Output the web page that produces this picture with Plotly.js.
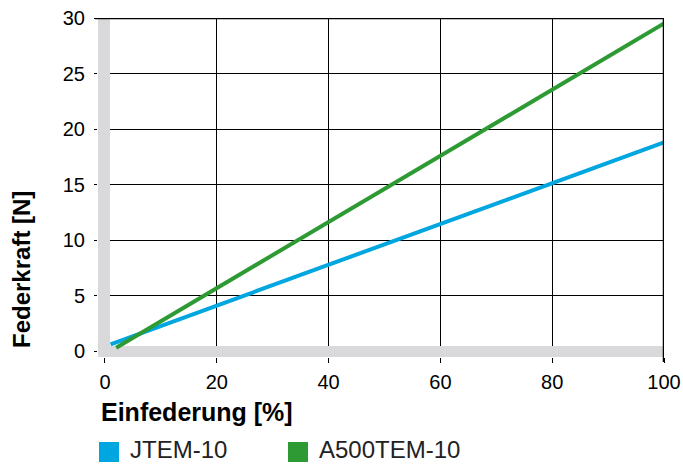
<!DOCTYPE html>
<html><head><meta charset="utf-8">
<script src="https://cdn.plot.ly/plotly-3.0.1.min.js"></script>
<style>html,body{margin:0;padding:0;background:#fff}#chart{width:683px;height:464px}</style>
</head><body><div id="chart"></div>
<script>
const seriesNames = ["JTEM-10", "A500TEM-10"];
const seriesColors = ["#00a6df", "#2e9a33"];
const xJTEM = [1, 100];
const yJTEM = [0.6, 18.8];
const xA500 = [2, 100];
const yA500 = [0.3, 29.5];
const xTicks = [0, 20, 40, 60, 80, 100];
const yTicks = [0, 5, 10, 15, 20, 25, 30];
const xTitle = "Einfederung [%]";
const yTitle = "Federkraft [N]";

const W = 683, H = 464, L = 98, R = 19, T = 18, B = 107;
const pw = W - L - R, ph = H - T - B;
const px = v => (v - L) / pw;
const py = v => (H - B - v) / ph;
const FONT = "Liberation Sans, Arial, sans-serif";

const traces = [
  {x: xJTEM, y: yJTEM, mode: "lines", line: {color: seriesColors[0], width: 4}, showlegend: false, hoverinfo: "skip"},
  {x: xA500, y: yA500, mode: "lines", line: {color: seriesColors[1], width: 4}, showlegend: false, hoverinfo: "skip"}
];

const xr = [-1.25, 100], yr = [-0.54, 30];
const gray = "#d9d9db";
const shapes = [
  {type: "rect", xref: "x", yref: "y", x0: xr[0], x1: 0.9, y0: yr[0], y1: 30, fillcolor: gray, line: {width: 0}, layer: "between"},
  {type: "rect", xref: "x", yref: "y", x0: xr[0], x1: 100, y0: yr[0], y1: 0.45, fillcolor: gray, line: {width: 0}, layer: "between"},
  {type: "line", xref: "paper", yref: "y", x0: px(95), x1: 1, y0: 30, y1: 30, line: {color: "#000", width: 2.5}, layer: "above"},
  {type: "line", xref: "x", yref: "paper", x0: 100, x1: 100, y0: py(362), y1: 1, line: {color: "#000", width: 2.5}, layer: "above"}
];
const annotations = [
  {xref: "paper", yref: "paper", x: px(99), y: py(412), xanchor: "left", yanchor: "middle", text: xTitle, showarrow: false, font: {family: FONT, size: 25, color: "#000", weight: "bold"}},
  {xref: "paper", yref: "paper", x: px(21), y: py(270), xanchor: "center", yanchor: "middle", textangle: -90, text: yTitle, showarrow: false, font: {family: FONT, size: 24, color: "#000", weight: "bold"}}
];
const legX = [99, 288];
seriesNames.forEach((n, i) => {
  shapes.push({type: "rect", xref: "paper", yref: "paper", x0: px(legX[i]), x1: px(legX[i] + 20), y0: py(462), y1: py(442), fillcolor: seriesColors[i], line: {width: 0}});
  annotations.push({xref: "paper", yref: "paper", x: px(legX[i] + 30), y: py(449), xanchor: "left", yanchor: "middle", text: n, showarrow: false, borderpad: 0, font: {family: FONT, size: 24, color: "#222"}});
});

const layout = {
  width: W, height: H,
  margin: {l: L, r: R, t: T, b: B, pad: 0},
  paper_bgcolor: "#fff", plot_bgcolor: "#fff",
  showlegend: false,
  xaxis: {range: xr, tickvals: xTicks, ticktext: xTicks.map(String), showgrid: true, gridcolor: "#000", gridwidth: 1,
    zeroline: false, showline: false, ticks: "outside", ticklen: 5, tickcolor: "#000", tickwidth: 1,
    tickfont: {family: FONT, size: 20, color: "#000"}, ticklabelstandoff: 2},
  yaxis: {range: yr, tickvals: yTicks, ticktext: yTicks.map(String), showgrid: true, gridcolor: "#000", gridwidth: 1,
    zeroline: false, showline: false, ticks: "outside", ticklen: 3, tickcolor: "#000", tickwidth: 1,
    tickfont: {family: FONT, size: 20, color: "#000"}, ticklabelstandoff: 5},
  shapes: shapes,
  annotations: annotations
};
Plotly.newPlot("chart", traces, layout, {staticPlot: true, displayModeBar: false});
</script></body></html>
